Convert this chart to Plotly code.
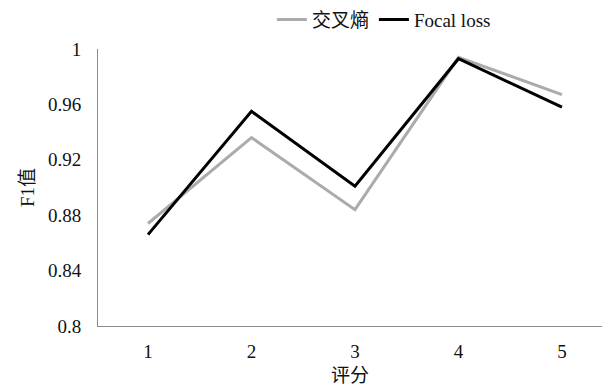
import plotly.graph_objects as go

# Scores on the x axis and F1 values per loss function
scores = [1, 2, 3, 4, 5]
ce_f1 = [0.874, 0.936, 0.884, 0.994, 0.967]
focal_f1 = [0.866, 0.955, 0.901, 0.993, 0.958]

y_ticks = [0.8, 0.84, 0.88, 0.92, 0.96, 1.0]
y_tick_text = ["0.8", "0.84", "0.88", "0.92", "0.96", "1"]

FONT = "Liberation Serif, Noto Sans CJK SC, serif"
TXT = dict(family=FONT, size=19, color="#111111")

fig = go.Figure()
fig.add_trace(go.Scatter(x=scores, y=ce_f1, mode="lines", name="交叉熵",
                         line=dict(color="#ababab", width=3)))
fig.add_trace(go.Scatter(x=scores, y=focal_f1, mode="lines", name="Focal loss",
                         line=dict(color="#000000", width=3)))

fig.update_layout(
    width=602, height=387,
    margin=dict(l=98, r=0, t=46, b=61),
    paper_bgcolor="white", plot_bgcolor="white",
    font=TXT,
    showlegend=True,
    legend=dict(orientation="h", x=0.345, xanchor="left", y=1.175, yanchor="top",
                yref="paper", font=TXT, bgcolor="rgba(0,0,0,0)"),
    xaxis=dict(range=[0.517, 5.387], tickvals=scores, showgrid=False, zeroline=False,
               showline=True, linecolor="#8c8c8c", linewidth=1, ticks="",
               ticklabelstandoff=8, tickfont=TXT,
               title=dict(text="评分", standoff=7, font=TXT)),
    yaxis=dict(range=[0.8, 1.0], tickvals=y_ticks, ticktext=y_tick_text,
               showgrid=False, zeroline=False, showline=True, linecolor="#8c8c8c",
               linewidth=1, ticks="", ticklabelstandoff=12, tickfont=TXT,
               title=dict(text="F1值", standoff=8, font=TXT)),
)

fig.write_html("out.html")
